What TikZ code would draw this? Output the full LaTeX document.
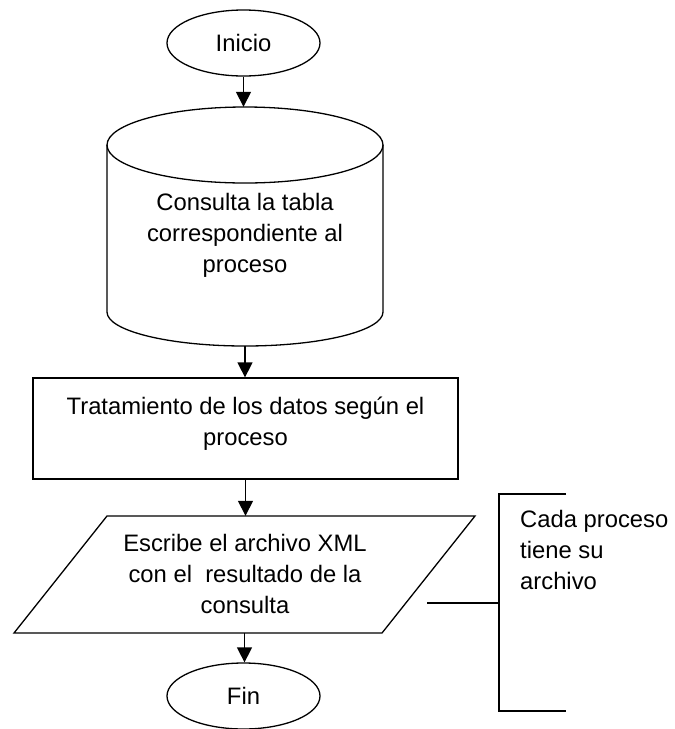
\documentclass[tikz,border=0pt]{standalone}
\usepackage{fontspec}
\setmainfont{Liberation Sans}
\usetikzlibrary{arrows.meta,shapes.geometric}
\begin{document}
\begin{tikzpicture}[x=1pt,y=1pt,
  every node/.style={font=\fontsize{23.8}{31}\selectfont, inner sep=0pt},
  term/.style={ellipse, draw, line width=1.3pt, minimum width=153pt, minimum height=66pt},
  frame/.style={line width=1.3pt},
  hold/.style={draw=none, inner sep=0pt},
  flow/.style={line width=1.5pt, -{Triangle[length=15pt,width=15pt]}},
  txt/.style={align=center},
]
\useasboundingbox (0,0) rectangle (675,-729);
% start
\node[term] (ini) at (243.5,-43) {Inicio};
% database cylinder
\node[hold, minimum width=276pt, minimum height=239pt] (cyl) at (245,-226.5) {};
\draw[frame] (245,-145) ellipse [x radius=138, y radius=38];
\draw[frame] (107,-145) -- (107,-312) arc[start angle=180,end angle=360,x radius=138,y radius=34] -- (383,-145);
\node[txt] (cyltxt) at (245,-235) {Consulta la tabla\\correspondiente al\\proceso};
% process
\node[draw, frame, minimum width=425pt, minimum height=101pt] (proc) at (245.5,-428.5) {};
\node[txt] (proctxt) at (245.5,-424) {Tratamiento de los datos según el\\proceso};
% output
\node[hold, minimum width=461pt, minimum height=117pt] (io) at (244.5,-574.5) {};
\draw[frame] (107,-516) -- (475,-516) -- (382,-633) -- (14,-633) -- cycle;
\node[txt] (iotxt) at (245,-574) {Escribe el archivo XML\\con el\ \ resultado de la\\consulta};
% end
\node[term] (fin) at (243.5,-696) {Fin};
% flow arrows
\draw[flow] (ini.south) -- (ini.south |- cyl.north);
\draw[flow] (cyl.south) -- (cyl.south |- proc.north);
\draw[flow] (proc.south) -- (proc.south |- io.north);
\draw[flow] (io.south) -- (io.south |- fin.north);
% annotation
\node[align=left, anchor=west] (note) at (520,-550) {Cada proceso\\tiene su\\archivo};
\coordinate (from) at (427,-603);
\coordinate (brk) at (499,-603);
\draw[frame] (566,-494) -- (499,-494) -- (499,-711) -- (566,-711);
\draw[frame] (from) -- (brk);
\end{tikzpicture}
\end{document}
